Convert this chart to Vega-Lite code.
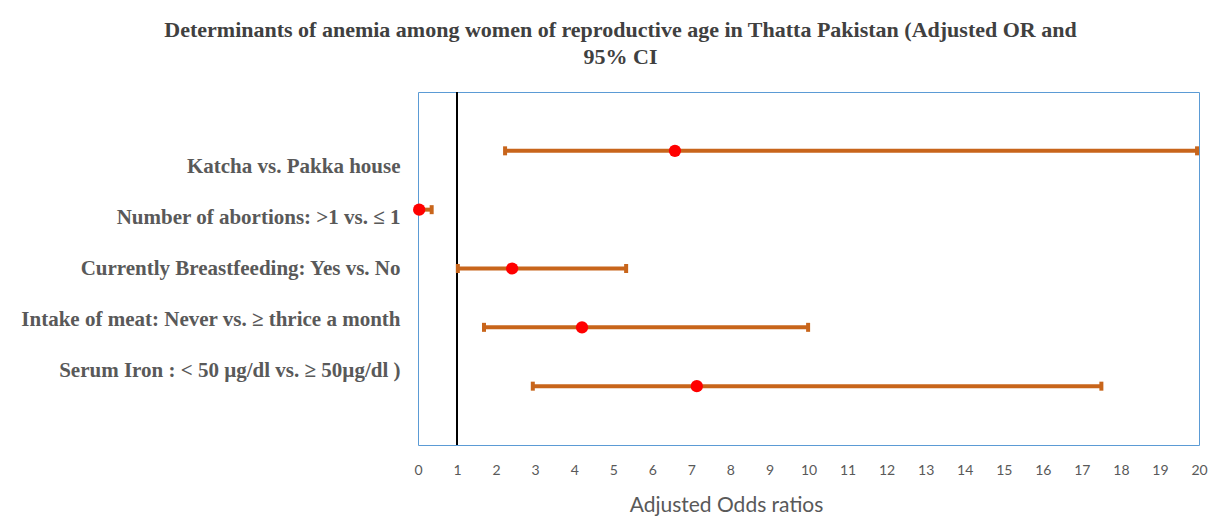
{
  "$schema": "https://vega.github.io/schema/vega-lite/v6.json",
  "width": 781,
  "height": 353,
  "autosize": {"type": "none"},
  "padding": {"left": 418, "top": 92, "right": 23, "bottom": 86},
  "background": "white",
  "title": {
    "text": ["Determinants of anemia among women of reproductive age in Thatta Pakistan (Adjusted OR and", "95% CI"],
    "font": "Liberation Serif",
    "fontSize": 22,
    "fontWeight": "bold",
    "color": "#404040",
    "anchor": "middle",
    "dx": -188,
    "offset": 22,
    "lineHeight": 27
  },
  "config": {
    "view": {"stroke": "#5b9bd5", "strokeWidth": 1}
  },
  "data": {
    "values": [
      {"factor": "Katcha vs. Pakka house", "or": 6.58, "lower": 2.23, "upper": 19.95},
      {"factor": "Number of abortions: >1 vs. ≤ 1", "or": 0.03, "lower": 0.02, "upper": 0.35},
      {"factor": "Currently Breastfeeding: Yes vs. No", "or": 2.41, "lower": 1.02, "upper": 5.33},
      {"factor": "Intake of  meat: Never vs. ≥ thrice a month", "or": 4.2, "lower": 1.69, "upper": 9.99},
      {"factor": "Serum Iron : < 50 µg/dl vs. ≥ 50µg/dl )", "or": 7.14, "lower": 2.94, "upper": 17.5}
    ]
  },
  "encoding": {
    "x": {"type": "quantitative", "scale": {"domain": [0, 20], "nice": false, "zero": true},
      "axis": {"tickCount": 21, "tickMinStep": 1, "labelOverlap": false, "labelFlush": false, "grid": false, "ticks": false, "domain": false,
        "title": "Adjusted Odds ratios", "titleX": 308,
        "labelFont": "Lato", "labelFontSize": 14, "labelColor": "#595959", "labelPadding": 18,
        "titleFont": "Lato", "titleFontSize": 21, "titleFontWeight": "normal", "titleColor": "#595959", "titlePadding": 17}}
  },
  "layer": [
    {
      "mark": {"type": "text", "opacity": 0, "text": ""},
      "encoding": {
        "x": {"field": "or", "type": "quantitative"},
        "y": {"field": "factor", "type": "ordinal", "scale": {"type": "point", "padding": 0.45,
            "domain": [" ", "Katcha vs. Pakka house", "Number of abortions: >1 vs. ≤ 1", "Currently Breastfeeding: Yes vs. No", "Intake of  meat: Never vs. ≥ thrice a month", "Serum Iron : < 50 µg/dl vs. ≥ 50µg/dl )", "  "]},
          "axis": {"orient": "left", "title": null, "ticks": false, "domain": false, "grid": false,
            "labelFont": "Liberation Serif", "labelFontSize": 21, "labelFontWeight": "bold", "labelColor": "#595959", "labelPadding": 18, "labelLimit": 500}}
      }
    },
    {
      "mark": {"type": "rule", "color": "black", "strokeWidth": 1.5},
      "encoding": {"x": {"datum": 1, "type": "quantitative"}}
    },
    {
      "encoding": {
        "y": {"field": "factor", "type": "nominal", "sort": null, "scale": {"type": "point", "padding": 1}, "axis": null}
      },
      "layer": [
        {
          "mark": {"type": "rule", "color": "#c8651b", "strokeWidth": 4},
          "encoding": {"x": {"field": "lower", "type": "quantitative"}, "x2": {"field": "upper"}}
        },
        {
          "mark": {"type": "tick", "color": "#c8651b", "thickness": 4, "size": 9, "opacity": 1},
          "encoding": {"x": {"field": "lower", "type": "quantitative"}}
        },
        {
          "mark": {"type": "tick", "color": "#c8651b", "thickness": 4, "size": 9, "opacity": 1},
          "encoding": {"x": {"field": "upper", "type": "quantitative"}}
        },
        {
          "mark": {"type": "circle", "color": "#ff0000", "size": 150, "opacity": 1},
          "encoding": {"x": {"field": "or", "type": "quantitative"}}
        }
      ]
    }
  ],
  "resolve": {"scale": {"y": "independent"}, "axis": {"y": "independent"}}
}
